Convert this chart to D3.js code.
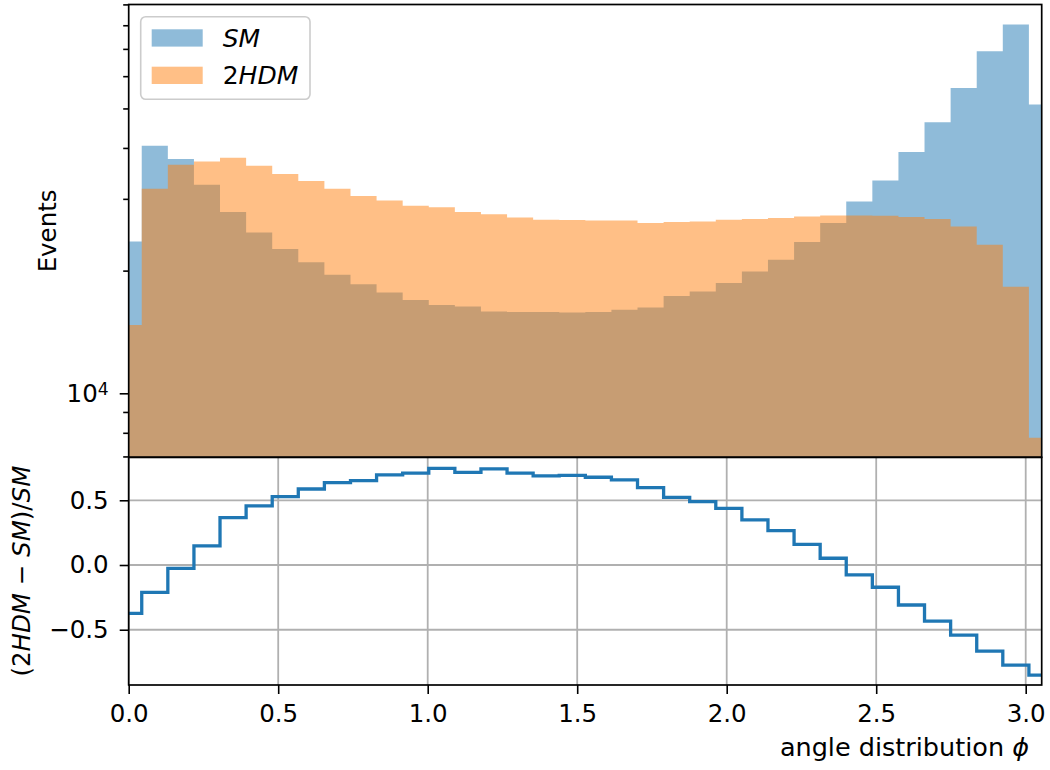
<!DOCTYPE html>
<html>
<head>
<meta charset="utf-8">
<script src="https://cdn.jsdelivr.net/npm/d3@7"></script>
<style>
  html, body { margin: 0; padding: 0; background: #fff; }
  svg text { font-family: "DejaVu Sans", sans-serif; fill: #000; }
</style>
</head>
<body>
<svg id="chart" width="1050" height="770"></svg>
<script>
// ---- data ----
const binEdges = [-0.0436, 0.0436, 0.1309, 0.2182, 0.3054, 0.3927, 0.4800, 0.5672, 0.6545, 0.7418,
  0.8290, 0.9163, 1.0036, 1.0908, 1.1781, 1.2654, 1.3526, 1.4399, 1.5272, 1.6144,
  1.7017, 1.7890, 1.8762, 1.9635, 2.0508, 2.1380, 2.2253, 2.3126, 2.3998, 2.4871,
  2.5744, 2.6616, 2.7489, 2.8362, 2.9234, 3.0107, 3.0980];
const smCounts = [23580, 40520, 37580, 32490, 27840, 24800, 22590, 20960, 19530, 18530,
  17670, 16950, 16480, 16320, 15870, 15840, 15840, 15790, 15840, 16030,
  16230, 17340, 17770, 18640, 19900, 21260, 23500, 26170, 29570, 33300,
  39090, 46230, 56160, 69080, 80340, 51100];
const hdmCounts = [14720, 31770, 36390, 37070, 37860, 36180, 34520, 33180, 31770, 30480,
  29720, 28850, 28610, 27840, 27500, 27010, 26660, 26620, 26560, 26560,
  26170, 26320, 26410, 26660, 26770, 26920, 27160, 27320, 27320, 27270,
  27070, 26770, 25670, 23140, 18270, 7780];
const ratioValues = [-0.373, -0.211, -0.026, 0.147, 0.366, 0.456, 0.528, 0.587, 0.636, 0.652,
  0.696, 0.709, 0.747, 0.716, 0.742, 0.709, 0.688, 0.693, 0.678, 0.657,
  0.598, 0.523, 0.489, 0.438, 0.348, 0.265, 0.160, 0.052, -0.077, -0.172,
  -0.309, -0.433, -0.541, -0.665, -0.773, -0.850];
const xTicks = [0.0, 0.5, 1.0, 1.5, 2.0, 2.5, 3.0];
const yTopMajor = [10000];
const yTopMinor = [7000, 8000, 9000, 20000, 30000, 40000, 50000, 60000, 70000, 80000, 90000];
const yBotTicks = [-0.5, 0.0, 0.5];
const seriesNames = ["SM", "2HDM"];
const xDomain = [0, 3.0535];
const yTopDomain = [6966, 89950];
const yBotDomain = [-0.927, 0.832];

// ---- layout ----
const L = 128.7, R = 1041.7;
const topT = 4.5, topB = 457.3, botT = 457.3, botB = 685;
const FS = 24.5;
const blue = "#1f77b4", orange = "#ff7f0e";

const svg = d3.select("#chart");
const x = d3.scaleLinear().domain(xDomain).range([L, R]);
const yTop = d3.scaleLog().domain(yTopDomain).range([topB, topT]);
const yBot = d3.scaleLinear().domain(yBotDomain).range([botB, botT]);

const defs = svg.append("defs");
defs.append("clipPath").attr("id", "clipTop").append("rect")
  .attr("x", L).attr("y", topT).attr("width", R - L).attr("height", topB - topT);
defs.append("clipPath").attr("id", "clipBot").append("rect")
  .attr("x", L).attr("y", botT).attr("width", R - L).attr("height", botB - botT);

// ---- top panel histograms (one stepped area per series, no seams) ----
const gTop = svg.append("g").attr("clip-path", "url(#clipTop)");
function drawHist(values, color) {
  const pts = values.map((v, i) => [binEdges[i], v]);
  pts.push([binEdges[binEdges.length - 1], values[values.length - 1]]);
  const area = d3.area()
    .x(d => x(d[0]))
    .y0(topB + 2)
    .y1(d => yTop(d[1]))
    .curve(d3.curveStepAfter);
  gTop.append("path").attr("d", area(pts))
    .attr("fill", color).attr("fill-opacity", 0.5);
}
drawHist(smCounts, blue);
drawHist(hdmCounts, orange);

// top y axis
const axTopMajor = d3.axisLeft(yTop).tickValues(yTopMajor).tickSize(9).tickFormat(() => "");
const gTy = svg.append("g").attr("transform", `translate(${L},0)`).call(axTopMajor);
const axTopMinor = d3.axisLeft(yTop).tickValues(yTopMinor).tickSize(5.5).tickFormat(() => "");
const gTyMin = svg.append("g").attr("transform", `translate(${L},0)`).call(axTopMinor);
[gTy, gTyMin].forEach(g => {
  g.select(".domain").remove();
  g.selectAll(".tick line").attr("stroke", "#000").attr("stroke-width", 1.6);
  g.selectAll(".tick text").remove();
});
gTy.selectAll(".tick").append("text")
  .attr("x", -20).attr("dy", "0.35em").attr("text-anchor", "end")
  .style("font-size", FS + "px")
  .each(function (d) {
    const t = d3.select(this);
    const e = Math.round(Math.log10(d));
    t.append("tspan").text("10");
    t.append("tspan").attr("dy", "-0.45em").style("font-size", (FS * 0.7) + "px").text(String(e));
  });

// ---- bottom panel ----
const gGrid = svg.append("g");
gGrid.selectAll("line.vx").data(xTicks).join("line")
  .attr("x1", d => x(d)).attr("x2", d => x(d)).attr("y1", botT).attr("y2", botB)
  .attr("stroke", "#b0b0b0").attr("stroke-width", 1.8);
gGrid.selectAll("line.hy").data(yBotTicks).join("line")
  .attr("x1", L).attr("x2", R).attr("y1", d => yBot(d)).attr("y2", d => yBot(d))
  .attr("stroke", "#b0b0b0").attr("stroke-width", 1.8);

const stepPts = ratioValues.map((v, i) => [binEdges[i], v]);
stepPts.push([binEdges[binEdges.length - 1], ratioValues[ratioValues.length - 1]]);
const stepLine = d3.line().x(d => x(d[0])).y(d => yBot(d[1])).curve(d3.curveStepAfter);
svg.append("g").attr("clip-path", "url(#clipBot)")
  .append("path").attr("d", stepLine(stepPts))
  .attr("fill", "none").attr("stroke", blue).attr("stroke-width", 3.3)
  .attr("stroke-linejoin", "miter");

const axX = d3.axisBottom(x).tickValues(xTicks).tickSize(9).tickPadding(10).tickFormat(d3.format(".1f"));
const gX = svg.append("g").attr("transform", `translate(0,${botB})`).call(axX);
const axYb = d3.axisLeft(yBot).tickValues(yBotTicks).tickSize(9).tickPadding(11)
  .tickFormat(d => d3.format(".1f")(d).replace("-", "\u2212"));
const gYb = svg.append("g").attr("transform", `translate(${L},0)`).call(axYb);
[gX, gYb].forEach(g => {
  g.select(".domain").remove();
  g.selectAll(".tick line").attr("stroke", "#000").attr("stroke-width", 1.6);
  g.selectAll(".tick text").style("font-size", FS + "px").attr("fill", "#000");
});
gX.selectAll(".tick text").attr("dy", "0.72em");

// spines
[[topT, topB], [botT, botB]].forEach(([t, b]) => {
  svg.append("rect").attr("x", L).attr("y", t).attr("width", R - L).attr("height", b - t)
    .attr("fill", "none").attr("stroke", "#000").attr("stroke-width", 1.7);
});

// ---- legend ----
const lg = svg.append("g");
lg.append("rect").attr("x", 140.7).attr("y", 16.7).attr("width", 169.3).attr("height", 82.6)
  .attr("rx", 5).attr("fill", "#fff").attr("fill-opacity", 0.8)
  .attr("stroke", "#cccccc").attr("stroke-width", 1.6);
const legColors = [blue, orange];
const legY = [29.3, 66.7];
seriesNames.forEach((name, i) => {
  lg.append("rect").attr("x", 151.7).attr("y", legY[i]).attr("width", 51).attr("height", 17.3)
    .attr("fill", legColors[i]).attr("fill-opacity", 0.5);
  const t = lg.append("text").attr("x", 222.7).attr("y", legY[i] + 17.3)
    .style("font-size", "25px");
  const m = name.match(/^(\d*)(.*)$/);
  if (m[1]) t.append("tspan").text(m[1]);
  t.append("tspan").style("font-style", "italic").text(m[2]);
});

// ---- axis labels ----
const xl = svg.append("text").attr("x", 1029).attr("y", 756).attr("text-anchor", "end")
  .style("font-size", "25.5px");
xl.append("tspan").text("angle distribution ");
xl.append("tspan").style("font-style", "italic").text("\u03D5");

svg.append("text")
  .attr("transform", `translate(56,${(topT + topB) / 2}) rotate(-90)`)
  .attr("text-anchor", "middle").style("font-size", FS + "px").text("Events");

const yl = svg.append("text")
  .attr("transform", `translate(30,${(botT + botB) / 2}) rotate(-90)`)
  .attr("text-anchor", "middle").style("font-size", FS + "px");
[["(", false], ["2", false], ["HDM", true], [" \u2212 ", false], ["SM", true], [")/", false], ["SM", true]]
  .forEach(([s, it]) => yl.append("tspan").style("font-style", it ? "italic" : "normal").text(s));
</script>
</body>
</html>
